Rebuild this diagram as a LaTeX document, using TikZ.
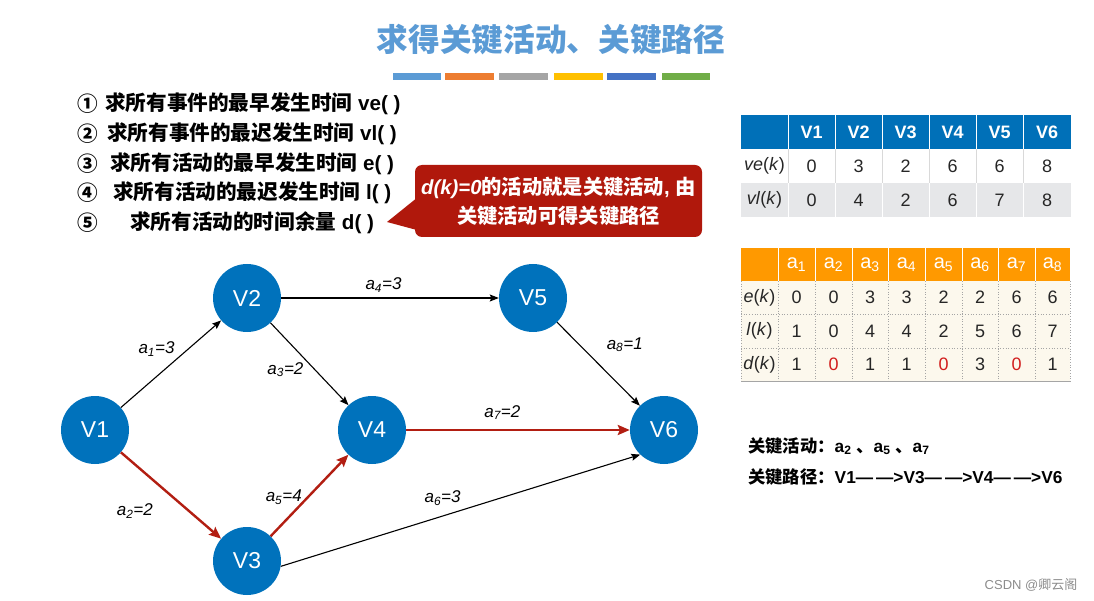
\documentclass[tikz,border=0pt]{standalone}
\usepackage{fontspec}
\setmainfont{Liberation Sans}
\newfontfamily\cjk{Noto Sans CJK SC}
\usetikzlibrary{arrows.meta,positioning}

\definecolor{titleblue}{RGB}{91,155,213}
\definecolor{barblue}{RGB}{91,155,213}
\definecolor{barorange}{RGB}{237,125,49}
\definecolor{bargray}{RGB}{165,165,165}
\definecolor{baryellow}{RGB}{255,192,0}
\definecolor{bardarkblue}{RGB}{68,114,196}
\definecolor{bargreen}{RGB}{112,173,71}
\definecolor{vertexblue}{RGB}{0,114,188}
\definecolor{critred}{RGB}{178,30,18}
\definecolor{hintred}{RGB}{176,24,12}
\definecolor{headblue}{RGB}{0,112,184}
\definecolor{rowgray}{RGB}{230,231,233}
\definecolor{headorange}{RGB}{255,153,0}
\definecolor{tablecream}{RGB}{252,248,237}
\definecolor{zerored}{RGB}{210,30,30}
\definecolor{gridgray}{RGB}{165,165,165}

\tikzset{
	vertex/.style={circle, fill=vertexblue, text=white, minimum size=68pt, inner sep=0pt, font=\fontsize{23}{23}\selectfont},
	weight/.style={text=black, inner sep=1pt, font=\fontsize{17}{17}\selectfont\itshape},
	activity/.style={color=black, line width=1.1pt, >={Stealth[length=9pt,width=7pt,inset=1.5pt]}},
	critical activity/.style={color=critred, line width=2.4pt, >={Stealth[length=12pt,width=10pt,inset=2pt]}},
	steptext/.style={anchor=west, inner sep=0pt, font=\fontsize{20.6}{20.6}\selectfont\bfseries},
	cell/.style={inner sep=0pt, text=black!85, font=\fontsize{18}{18}\selectfont},
	headcell/.style={inner sep=0pt, text=white, font=\fontsize{18}{18}\selectfont\bfseries},
	acthead/.style={inner sep=0pt, text=white, font=\fontsize{20}{20}\selectfont},
}

\begin{document}
\begin{tikzpicture}[x=1pt, y=-1pt]
	\useasboundingbox (0,0) rectangle (1094,601);

	\node[text=titleblue, font=\fontsize{31.7}{31.7}\selectfont\bfseries] (Title) at (551,40) {\cjk 求得关键活动、关键路径};
	\fill[barblue] (393,73) rectangle (441,80);
	\fill[barorange] (445,73) rectangle (494,80);
	\fill[bargray] (499,73) rectangle (548,80);
	\fill[baryellow] (554,73) rectangle (603,80);
	\fill[bardarkblue] (607,73) rectangle (656,80);
	\fill[bargreen] (662,73) rectangle (710,80);

	\begin{scope}[every node/.style={steptext}]
		\node (Step 1) at (77,104) {\cjk ①};
			\node (Step 1 text) at (105,104) {{\cjk 求所有事件的最早发生时间} ve( )};
		\node (Step 2) at (77,134) {\cjk ②};
			\node (Step 2 text) at (107,134) {{\cjk 求所有事件的最迟发生时间} vl( )};
		\node (Step 3) at (77,164) {\cjk ③};
			\node (Step 3 text) at (110,164) {{\cjk 求所有活动的最早发生时间} e( )};
		\node (Step 4) at (77,193) {\cjk ④};
			\node (Step 4 text) at (113,193) {{\cjk 求所有活动的最迟发生时间} l( )};
		\node (Step 5) at (77,223) {\cjk ⑤};
			\node (Step 5 text) at (130,223) {{\cjk 求所有活动的时间余量} d( )};
	\end{scope}

	\node[fill=hintred, rounded corners=7pt, minimum width=287pt, minimum height=72pt, text=white, align=center, font=\fontsize{20.3}{29}\selectfont\bfseries] (Hint) at (558.5,201) {\textit{d(k)=0}{\cjk 的活动就是关键活动}, {\cjk 由}\\{\cjk 关键活动可得关键路径}};
	\coordinate (Hint tip) at (387,222);
	\fill[hintred] ([xshift=2pt,yshift=3pt]Hint.west) -- (Hint tip) -- ([xshift=2pt,yshift=-29pt]Hint.west) -- cycle;

	\begin{scope}[every node/.style={vertex}]
		\node (V1) at (95,430) {V1};
		\node (V2) at (247,298) {V2};
		\node (V3) at (247,561) {V3};
		\node (V4) at (372,430) {V4};
		\node (V5) at (533,298) {V5};
		\node (V6) at (664,430) {V6};
	\end{scope}
	\begin{scope}[every node/.style={weight}]
	\path [activity, ->] (V1) edge node[pos=0.55, above left=2pt and 0pt] {a\textsubscript{1}=3} (V2);
	\path [critical activity, ->] (V1) edge node[pos=0.5, below left=6pt and 16pt] {a\textsubscript{2}=2} (V3);
	\path [activity, ->] (V2) edge node[pos=0.57, left=10pt] {a\textsubscript{3}=2} (V4);
	\path [activity, ->] (V2) edge node[pos=0.47, above=4pt] {a\textsubscript{4}=3} (V5);
	\path [critical activity, ->] (V3) edge node[pos=0.48, left=4pt] {a\textsubscript{5}=4} (V4);
	\path [activity, ->] (V3.-9) edge node[pos=0.45, above=9pt] {a\textsubscript{6}=3} (V6.226);
	\path [critical activity, ->] (V4) edge node[pos=0.43, above=8pt] {a\textsubscript{7}=2} (V6);
	\path [activity, ->] (V5) edge node[pos=0.4, above right=2pt and 15pt] {a\textsubscript{8}=1} (V6);
	\end{scope}

	\fill[headblue] (741,115) rectangle (1071,149);
	\fill[rowgray] (741,183) rectangle (1071,217);
	\draw[white, line width=0.8pt] (788,115) -- (788,217) (835,115) -- (835,217) (882,115) -- (882,217) (929,115) -- (929,217) (976,115) -- (976,217) (1023,115) -- (1023,217);
	\draw[black!15, line width=0.6pt] (788,149) -- (788,183) (835,149) -- (835,183) (882,149) -- (882,183) (929,149) -- (929,183) (976,149) -- (976,183) (1023,149) -- (1023,183);
	\begin{scope}[every node/.style={headcell}]
		\node (V1 head) at (811.5,132) {V1};
		\node (V2 head) at (858.5,132) {V2};
		\node (V3 head) at (905.5,132) {V3};
		\node (V4 head) at (952.5,132) {V4};
		\node (V5 head) at (999.5,132) {V5};
		\node (V6 head) at (1047,132) {V6};
	\end{scope}
	\begin{scope}[every node/.style={cell}]
		\node (ve label) at (764.5,166) {\textit{ve}(\textit{k})};
			\node (ve V1) at (811.5,166) {0};
			\node (ve V2) at (858.5,166) {3};
			\node (ve V3) at (905.5,166) {2};
			\node (ve V4) at (952.5,166) {6};
			\node (ve V5) at (999.5,166) {6};
			\node (ve V6) at (1047,166) {8};
		\node (vl label) at (764.5,200) {\textit{vl}(\textit{k})};
			\node (vl V1) at (811.5,200) {0};
			\node (vl V2) at (858.5,200) {4};
			\node (vl V3) at (905.5,200) {2};
			\node (vl V4) at (952.5,200) {6};
			\node (vl V5) at (999.5,200) {7};
			\node (vl V6) at (1047,200) {8};
	\end{scope}

	\fill[tablecream] (741,248) rectangle (1070,381);
	\fill[headorange] (741,248) rectangle (1070,281);
	\draw[white, line width=0.8pt] (778,248) -- (778,281) (815,248) -- (815,281) (852,248) -- (852,281) (888,248) -- (888,281) (925,248) -- (925,281) (962,248) -- (962,281) (998,248) -- (998,281) (1035,248) -- (1035,281);
	\draw[gridgray, dotted, line width=0.7pt] (741,281) -- (741,381) (778,281) -- (778,381) (815,281) -- (815,381) (852,281) -- (852,381) (888,281) -- (888,381) (925,281) -- (925,381) (962,281) -- (962,381) (998,281) -- (998,381) (1035,281) -- (1035,381) (1070,281) -- (1070,381) (741,314) -- (1070,314) (741,348) -- (1070,348);
	\draw[gridgray, line width=0.8pt] (741,381) -- (1070,381);
	\begin{scope}[every node/.style={acthead}]
		\node (a1 head) at (796.5,264.5) {a\textsubscript{1}};
		\node (a2 head) at (833.5,264.5) {a\textsubscript{2}};
		\node (a3 head) at (870,264.5) {a\textsubscript{3}};
		\node (a4 head) at (906.5,264.5) {a\textsubscript{4}};
		\node (a5 head) at (943.5,264.5) {a\textsubscript{5}};
		\node (a6 head) at (980,264.5) {a\textsubscript{6}};
		\node (a7 head) at (1016.5,264.5) {a\textsubscript{7}};
		\node (a8 head) at (1052.5,264.5) {a\textsubscript{8}};
	\end{scope}
	\begin{scope}[every node/.style={cell}]
		\node (e label) at (759.5,297.5) {\textit{e}(\textit{k})};
			\node (e a1) at (796.5,297.5) {0};
			\node (e a2) at (833.5,297.5) {0};
			\node (e a3) at (870,297.5) {3};
			\node (e a4) at (906.5,297.5) {3};
			\node (e a5) at (943.5,297.5) {2};
			\node (e a6) at (980,297.5) {2};
			\node (e a7) at (1016.5,297.5) {6};
			\node (e a8) at (1052.5,297.5) {6};
		\node (l label) at (759.5,331) {\textit{l}(\textit{k})};
			\node (l a1) at (796.5,331) {1};
			\node (l a2) at (833.5,331) {0};
			\node (l a3) at (870,331) {4};
			\node (l a4) at (906.5,331) {4};
			\node (l a5) at (943.5,331) {2};
			\node (l a6) at (980,331) {5};
			\node (l a7) at (1016.5,331) {6};
			\node (l a8) at (1052.5,331) {7};
		\node (d label) at (759.5,364.5) {\textit{d}(\textit{k})};
			\node (d a1) at (796.5,364.5) {1};
			\node[text=zerored] (d a2) at (833.5,364.5) {0};
			\node (d a3) at (870,364.5) {1};
			\node (d a4) at (906.5,364.5) {1};
			\node[text=zerored] (d a5) at (943.5,364.5) {0};
			\node (d a6) at (980,364.5) {3};
			\node[text=zerored] (d a7) at (1016.5,364.5) {0};
			\node (d a8) at (1052.5,364.5) {1};
	\end{scope}

	\begin{scope}[every node/.style={anchor=west, inner sep=0pt, font=\fontsize{17.3}{17.3}\selectfont\bfseries}]
		\node (Critical activities) at (748,446) {{\cjk 关键活动：}a\textsubscript{2} {\cjk 、}a\textsubscript{5} {\cjk 、}a\textsubscript{7}};
		\node (Critical path) at (748,477) {{\cjk 关键路径：}V1—\hspace{3pt}—>V3—\hspace{3pt}—>V4—\hspace{3pt}—>V6};
	\end{scope}
	\node[text=black!45, font=\fontsize{13}{13}\selectfont] (Watermark) at (1031,585) {CSDN @{\cjk 卿云阁}};
\end{tikzpicture}
\end{document}
